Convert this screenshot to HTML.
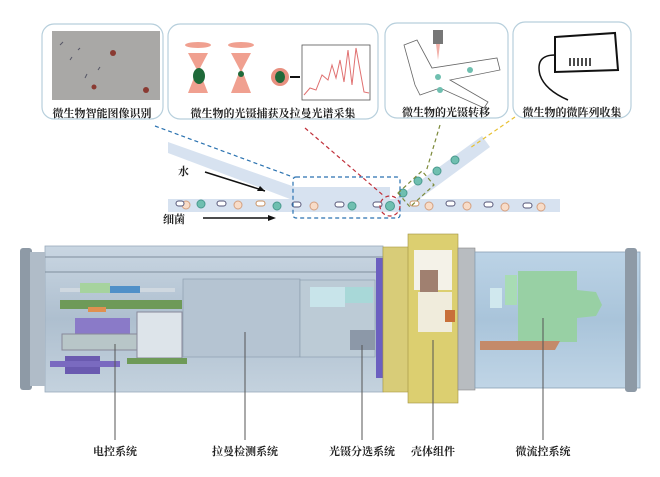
<!DOCTYPE html>
<html><head><meta charset="utf-8"><style>
body{margin:0;background:#fff;width:660px;height:472px;overflow:hidden}
text{font-family:"Liberation Serif","Noto Serif CJK SC",serif;font-weight:bold;font-size:11px;fill:#222}
</style></head><body>
<svg width="660" height="472" viewBox="0 0 660 472" xmlns="http://www.w3.org/2000/svg">
<defs>
<linearGradient id="cyl" x1="0" y1="0" x2="0" y2="1"><stop offset="0" stop-color="#c9d6e2"/><stop offset="0.5" stop-color="#aebfcf"/><stop offset="1" stop-color="#c4d2de"/></linearGradient>
<linearGradient id="cyl2" x1="0" y1="0" x2="0" y2="1"><stop offset="0" stop-color="#bcd3e6"/><stop offset="0.5" stop-color="#a9c4da"/><stop offset="1" stop-color="#c0d5e6"/></linearGradient>
</defs>
<!-- top boxes -->
<g fill="#fff" stroke="#b7cfdc" stroke-width="1.2">
<rect x="42" y="24" width="121" height="95" rx="12"/>
<rect x="168" y="24" width="210" height="95" rx="12"/>
<rect x="385" y="23" width="123" height="95" rx="12"/>
<rect x="513" y="22" width="118" height="96" rx="12"/>
</g>
<!-- box1 micrograph -->
<rect x="52" y="31" width="108" height="69" fill="#a9a8a6"/>
<g fill="#8a3a32"><circle cx="113" cy="53" r="3"/><circle cx="94" cy="87" r="2.5"/><circle cx="146" cy="90" r="3"/></g>
<g stroke="#556" stroke-width="1"><line x1="60" y1="45" x2="63" y2="42"/><line x1="70" y1="60" x2="72" y2="57"/><line x1="85" y1="78" x2="87" y2="74"/><line x1="98" y1="70" x2="100" y2="67"/><line x1="78" y1="50" x2="80" y2="48"/></g>
<!-- box2 tweezers -->
<g fill="#f0a090"><ellipse cx="198" cy="45" rx="13" ry="3"/><ellipse cx="241" cy="45" rx="13" ry="3"/>
<path d="M188 53 L208 53 L199 70 L208 93 L188 93 L197 70Z"/><path d="M231 53 L251 53 L242 70 L251 93 L231 93 L240 70Z"/></g>
<ellipse cx="199" cy="76" rx="6" ry="8" fill="#1f6a3a"/><ellipse cx="241" cy="74" rx="3" ry="3" fill="#1f6a3a"/>
<circle cx="280" cy="77" r="9" fill="#e89080"/><ellipse cx="280" cy="77" rx="5" ry="6" fill="#1f6a3a"/>
<line x1="290" y1="77" x2="300" y2="77" stroke="#111" stroke-width="2"/>
<rect x="302" y="45" width="68" height="55" fill="#fff" stroke="#555" stroke-width="0.8"/>
<polyline points="304,95 310,88 316,90 322,75 328,80 332,65 336,78 340,60 344,82 348,50 352,85 356,48 360,70 364,92 369,93" fill="none" stroke="#e07070" stroke-width="1"/>
<!-- box3 -->
<rect x="433" y="30" width="10" height="14" fill="#777"/><polygon points="436,44 440,44 438,60" fill="#f2b0a8"/>
<path d="M404 45 L417 40 L432 68 L497 58 L500 70 L450 80 L488 102 L484 108 L440 88 L420 95 L415 85 Z" fill="none" stroke="#666" stroke-width="0.8"/>
<g fill="#6fbfb0"><circle cx="438" cy="77" r="3"/><circle cx="470" cy="70" r="3"/><circle cx="440" cy="90" r="3"/></g>
<!-- box4 -->
<path d="M555 37 L615 33 L618 70 L555 72 Z" fill="none" stroke="#111" stroke-width="2"/>
<path d="M555 55 Q535 55 540 75 Q545 90 568 100" fill="none" stroke="#111" stroke-width="1.5"/>
<g stroke="#111" stroke-width="1.5"><line x1="570" y1="58" x2="570" y2="66"/><line x1="574" y1="58" x2="574" y2="66"/><line x1="578" y1="58" x2="578" y2="66"/><line x1="582" y1="58" x2="582" y2="66"/><line x1="586" y1="58" x2="586" y2="66"/><line x1="590" y1="58" x2="590" y2="66"/></g>
<text x="102" y="117" text-anchor="middle">微生物智能图像识别</text>
<text x="273" y="117" text-anchor="middle">微生物的光镊捕获及拉曼光谱采集</text>
<text x="446" y="116" text-anchor="middle">微生物的光镊转移</text>
<text x="572" y="116" text-anchor="middle">微生物的微阵列收集</text>
<!-- channels -->
<g fill="#d7e2f0">
<rect x="168" y="199" width="392" height="13"/>
<polygon points="168,142 295,187 390,187 390,199 290,199 168,153"/>
<polygon points="395,199 482,136 490,147 410,206"/>
</g>
<!-- particles -->
<g stroke-width="1">
<g fill="#6fbfb0" stroke="#4a9a8e"><circle cx="201" cy="204" r="4"/><circle cx="277" cy="206" r="4"/><circle cx="352" cy="206" r="4"/><circle cx="390" cy="206" r="4.5"/><circle cx="403" cy="193" r="4"/><circle cx="418" cy="181" r="4"/><circle cx="437" cy="171" r="4"/><circle cx="455" cy="160" r="4"/></g>
<g fill="#f8dcc8" stroke="#d4a080"><circle cx="186" cy="205" r="4"/><circle cx="238" cy="205" r="4"/><circle cx="314" cy="206" r="4"/><circle cx="429" cy="206" r="4"/><circle cx="467" cy="206" r="4"/><circle cx="505" cy="207" r="4"/><circle cx="541" cy="207" r="4"/></g>
<g fill="#fff" stroke="#557"><rect x="176" y="201" width="8" height="5" rx="2.5"/><rect x="217" y="201" width="9" height="5" rx="2.5"/><rect x="292" y="202" width="9" height="5" rx="2.5"/><rect x="335" y="202" width="9" height="5" rx="2.5"/><rect x="373" y="202" width="9" height="5" rx="2.5"/><rect x="446" y="201" width="9" height="5" rx="2.5"/><rect x="484" y="202" width="9" height="5" rx="2.5"/><rect x="523" y="203" width="9" height="5" rx="2.5"/></g>
<g fill="#fff" stroke="#c89060"><rect x="256" y="201" width="9" height="5" rx="2.5"/><rect x="410" y="201" width="9" height="5" rx="2.5"/><rect x="479" y="201" width="0" height="0"/><rect x="514" y="200" width="0" height="0"/></g>
</g>
<text x="178" y="175">水</text><text x="163" y="223">细菌</text>
<line x1="205" y1="172" x2="265" y2="191" stroke="#111" stroke-width="1.5"/><polygon points="265,191 257,191 260,186" fill="#111"/>
<line x1="203" y1="218" x2="273" y2="218" stroke="#111" stroke-width="1.5"/><polygon points="276,218 268,215 268,221" fill="#111"/>
<!-- dashed connectors -->
<g fill="none" stroke-width="1.2" stroke-dasharray="4,3">
<path d="M155 126 L293 177" stroke="#2a72b0"/>
<rect x="293" y="177" width="107" height="41" rx="3" stroke="#2a72b0"/>
<path d="M305 128 L384 196" stroke="#c0303a"/>
<circle cx="390" cy="206" r="10" stroke="#c0303a"/>
<path d="M440 125 L426 172" stroke="#7c8a3a"/>
<polygon points="398,193 422,171 434,185 410,207" stroke="#7c8a3a"/>
<path d="M515 117 L470 148" stroke="#e8c030"/>
</g>
<!-- bottom cylinder left -->
<rect x="45" y="246" width="338" height="146" fill="url(#cyl)" stroke="#9aabbb" stroke-width="0.8"/>
<rect x="20" y="248" width="12" height="142" rx="3" fill="#8e9aa6"/>
<rect x="30" y="252" width="15" height="134" fill="#b0bcc8"/>
<line x1="45" y1="257" x2="383" y2="257" stroke="#7f8e9c"/><line x1="45" y1="272" x2="383" y2="272" stroke="#7f8e9c"/>
<rect x="183" y="279" width="117" height="78" fill="#b5c4d2" stroke="#8899aa" stroke-width="0.6"/>
<rect x="300" y="280" width="75" height="77" fill="#bccbd6" stroke="#8899aa" stroke-width="0.6"/>
<rect x="60" y="288" width="115" height="4" fill="#cfd8e0"/>
<rect x="80" y="283" width="30" height="10" fill="#a6d39e"/><rect x="110" y="286" width="30" height="7" fill="#5090c8"/>
<rect x="60" y="300" width="122" height="9" fill="#6e9a58"/><rect x="88" y="307" width="18" height="5" fill="#e09050"/>
<rect x="75" y="318" width="55" height="17" fill="#8a7ac8"/>
<rect x="62" y="334" width="75" height="16" fill="#b8c6c8" stroke="#889"/>
<rect x="137" y="312" width="45" height="46" fill="#dde4ea" stroke="#889"/>
<rect x="65" y="356" width="35" height="18" fill="#6a5ab0"/><rect x="50" y="361" width="70" height="6" fill="#7a6ac0"/>
<rect x="127" y="358" width="60" height="6" fill="#6e9a58"/>
<rect x="310" y="287" width="35" height="20" fill="#c8e4ea"/><rect x="345" y="287" width="28" height="16" fill="#a8d8d8"/>
<rect x="350" y="330" width="25" height="20" fill="#8c98a8"/>
<rect x="376" y="258" width="7" height="120" fill="#6b5fc0"/>
<!-- flange -->
<rect x="383" y="247" width="28" height="145" fill="#d8cc78" stroke="#aa9a40" stroke-width="0.6"/>
<rect x="408" y="234" width="50" height="169" fill="#dccf70" stroke="#a09040" stroke-width="0.6"/>
<rect x="414" y="250" width="38" height="40" fill="#f4f2e8"/>
<rect x="418" y="292" width="34" height="40" fill="#f0ecdc"/>
<rect x="420" y="270" width="18" height="22" fill="#a08070"/><rect x="445" y="310" width="10" height="12" fill="#c8703a"/>
<rect x="458" y="248" width="17" height="142" fill="#b8bcc0" stroke="#888" stroke-width="0.6"/>
<!-- right cylinder -->
<rect x="475" y="252" width="165" height="136" fill="url(#cyl2)" stroke="#8aa0b4" stroke-width="0.8"/>
<rect x="625" y="248" width="12" height="144" rx="3" fill="#8e9aa6"/>
<rect x="518" y="271" width="59" height="71" fill="#98d0a4"/>
<polygon points="577,290 596,292 602,305 596,316 577,318" fill="#98d0a4"/>
<rect x="505" y="275" width="12" height="30" fill="#a8dcb4"/>
<rect x="490" y="288" width="12" height="20" fill="#d0e8ee"/>
<polygon points="480,341 560,341 555,350 480,350" fill="#c48a6a"/>
<!-- pointer lines -->
<g stroke="#555" stroke-width="1"><line x1="115" y1="344" x2="115" y2="440"/><line x1="245" y1="332" x2="245" y2="440"/><line x1="362" y1="345" x2="362" y2="440"/><line x1="433" y1="340" x2="433" y2="440"/><line x1="543" y1="318" x2="543" y2="440"/></g>
<text x="115" y="455" text-anchor="middle">电控系统</text>
<text x="245" y="455" text-anchor="middle">拉曼检测系统</text>
<text x="362" y="455" text-anchor="middle">光镊分选系统</text>
<text x="433" y="455" text-anchor="middle">壳体组件</text>
<text x="543" y="455" text-anchor="middle">微流控系统</text>
</svg>
</body></html>
